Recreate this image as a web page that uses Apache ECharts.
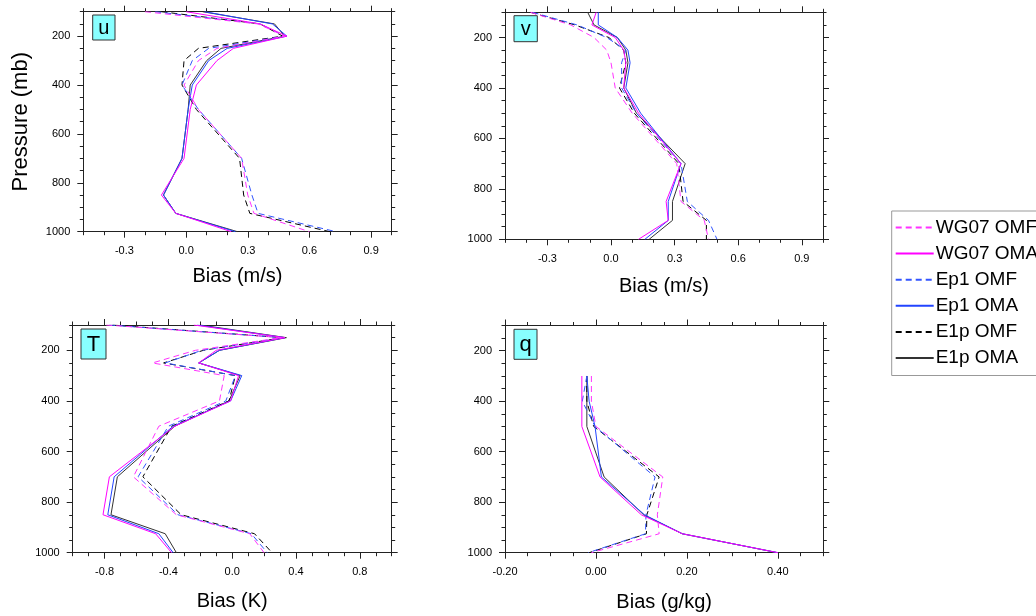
<!DOCTYPE html>
<html><head><meta charset="utf-8">
<script src="https://cdn.jsdelivr.net/npm/echarts@6/dist/echarts.min.js"></script>
<style>html,body{margin:0;padding:0;background:#fff}#c{width:1036px;height:616px}</style>
</head><body><div id="c"></div>
<script>
// ---------------- data ----------------
const seriesNames = ['WG07 OMF', 'WG07 OMA', 'Ep1 OMF', 'Ep1 OMA', 'E1p OMF', 'E1p OMA'];
const levels  = [100, 150, 200, 250, 300, 400, 500, 700, 850, 925, 1000];
const qLevels = [300, 400, 500, 700, 850, 925, 1000];

const u_WG07_OMF = [-0.20, 0.35, 0.48, 0.15, 0.06, -0.01, 0.06, 0.27, 0.30, 0.33, 0.60];
const u_WG07_OMA = [ 0.00, 0.36, 0.49, 0.23, 0.15,  0.05, 0.02, -0.01, -0.12, -0.05, 0.22];
const u_Ep1_OMF  = [-0.15, 0.36, 0.48, 0.11, 0.03, -0.02, 0.06, 0.27, 0.32, 0.35, 0.73];
const u_Ep1_OMA  = [ 0.09, 0.42, 0.49, 0.20, 0.11,  0.03, 0.01, -0.02, -0.11, -0.05, 0.24];
const u_E1p_OMF  = [-0.12, 0.36, 0.47, 0.06, -0.01, -0.02, 0.05, 0.26, 0.28, 0.31, 0.70];
const u_E1p_OMA  = [ 0.08, 0.43, 0.48, 0.17, 0.10,  0.02, 0.01, -0.02, -0.11, -0.05, 0.25];

const v_WG07_OMF = [-0.38, -0.19, -0.08, -0.02, 0.00, 0.02, 0.10, 0.31, 0.33, 0.44, 0.46];
const v_WG07_OMA = [-0.07, -0.09,  0.02,  0.06, 0.07, 0.06, 0.13, 0.33, 0.26, 0.27, 0.13];
const v_Ep1_OMF  = [-0.37, -0.16, -0.02,  0.07, 0.05, 0.05, 0.12, 0.33, 0.36, 0.46, 0.50];
const v_Ep1_OMA  = [-0.06, -0.06,  0.03,  0.08, 0.09, 0.07, 0.14, 0.33, 0.27, 0.27, 0.16];
const v_E1p_OMF  = [-0.38, -0.17, -0.01,  0.06, 0.07, 0.04, 0.11, 0.32, 0.34, 0.45, 0.45];
const v_E1p_OMA  = [-0.11, -0.08,  0.03,  0.07, 0.08, 0.06, 0.12, 0.35, 0.29, 0.29, 0.18];

const T_WG07_OMF = [-0.79, 0.31, -0.23, -0.50, -0.05, -0.08, -0.46, -0.62, -0.35, 0.11, 0.20];
const T_WG07_OMA = [-0.24, 0.33, -0.10, -0.21,  0.04, -0.01, -0.36, -0.77, -0.81, -0.48, -0.38];
const T_Ep1_OMF  = [-0.77, 0.32, -0.19, -0.42,  0.02, -0.04, -0.40, -0.59, -0.34, 0.12, 0.22];
const T_Ep1_OMA  = [-0.22, 0.33, -0.08, -0.21,  0.06, -0.01, -0.37, -0.74, -0.78, -0.46, -0.37];
const T_E1p_OMF  = [-0.75, 0.32, -0.18, -0.43,  0.02, -0.02, -0.38, -0.56, -0.32, 0.14, 0.25];
const T_E1p_OMA  = [-0.20, 0.34, -0.08, -0.21,  0.05, -0.02, -0.36, -0.72, -0.76, -0.42, -0.35];

const q_WG07_OMF = [-0.010, -0.010,  0.000, 0.147, 0.135, 0.139, -0.010];
const q_WG07_OMA = [-0.031, -0.031, -0.031, 0.009, 0.100, 0.190,  0.400];
const q_Ep1_OMF  = [-0.020, -0.030, -0.002, 0.130, 0.110, 0.109, -0.017];
const q_Ep1_OMA  = [-0.020, -0.015, -0.002, 0.012, 0.107, 0.190,  0.400];
const q_E1p_OMF  = [-0.020, -0.020, -0.005, 0.139, 0.112, 0.111, -0.015];
const q_E1p_OMA  = [-0.020, -0.020, -0.020, 0.018, 0.105, 0.190,  0.400];

const yTickLabels = [200, 400, 600, 800, 1000];
const uvTickLabels = [-0.3, 0.0, 0.3, 0.6, 0.9];
const TTickLabels = [-0.8, -0.4, 0.0, 0.4, 0.8];
const qTickLabels = [-0.20, 0.00, 0.20, 0.40];

// ---------------- layout / style ----------------
const FONT = '"Liberation Sans", Arial, Helvetica, sans-serif';
const colors = ['#ff33ff', '#ff00ff', '#3355ff', '#2244ff', '#000000', '#333333'];
const dashed = [true, false, true, false, true, false];

const panels = [
  { label: 'u', title: 'Bias (m/s)', levels: levels, data: [u_WG07_OMF, u_WG07_OMA, u_Ep1_OMF, u_Ep1_OMA, u_E1p_OMF, u_E1p_OMA],
    min: -0.5, max: 1.0, minor: 0.1, ticks: uvTickLabels, dec: 1,
    grid: { left: 83.3, top: 11.7, width: 308.4, height: 220 }, nameGap: 35, yName: 'Pressure (mb)',
    box: { x: 92.7, y: 15, w: 22.3, h: 25, fs: 20 } },
  { label: 'v', title: 'Bias (m/s)', levels: levels, data: [v_WG07_OMF, v_WG07_OMA, v_Ep1_OMF, v_Ep1_OMA, v_E1p_OMF, v_E1p_OMA],
    min: -0.5, max: 1.0, minor: 0.1, ticks: uvTickLabels, dec: 1,
    grid: { left: 505, top: 12.3, width: 318, height: 227 }, nameGap: 37,
    box: { x: 514, y: 15.7, w: 23.3, h: 26, fs: 20 } },
  { label: 'T', title: 'Bias (K)', levels: levels, data: [T_WG07_OMF, T_WG07_OMA, T_Ep1_OMF, T_Ep1_OMA, T_E1p_OMF, T_E1p_OMA],
    min: -1.0, max: 1.0, minor: 0.1, ticks: TTickLabels, dec: 1,
    grid: { left: 72.7, top: 325, width: 319, height: 227.7 }, nameGap: 39,
    box: { x: 81, y: 329, w: 25, h: 30, fs: 22 } },
  { label: 'q', title: 'Bias (g/kg)', levels: qLevels, data: [q_WG07_OMF, q_WG07_OMA, q_Ep1_OMF, q_Ep1_OMA, q_E1p_OMF, q_E1p_OMA],
    min: -0.2, max: 0.5, minor: 0.05, ticks: qTickLabels, dec: 2,
    grid: { left: 505, top: 325.5, width: 318.3, height: 227.2 }, nameGap: 40,
    box: { x: 514, y: 329.3, w: 23, h: 30, fs: 22 } }
];

const AX = '#222';
const grids = [], xAxes = [], yAxes = [], series = [], graphics = [];

panels.forEach((p, g) => {
  grids.push(Object.assign({ containLabel: false }, p.grid));
  const baseX = { type: 'value', gridIndex: g, min: p.min, max: p.max, splitLine: { show: false } };
  const baseY = { type: 'value', gridIndex: g, min: 100, max: 1000, inverse: true, splitLine: { show: false } };
  const fmtX = v => Number(v).toFixed(p.dec);
  const fmtY = v => String(Math.round(v));
  xAxes.push(Object.assign({}, baseX, { position: 'bottom', interval: p.minor,
    axisLine: { show: true, onZero: false, lineStyle: { color: AX, width: 1 } },
    axisTick: { show: true, inside: false, length: 3.5, lineStyle: { color: AX } },
    axisLabel: { show: false } }));
  xAxes.push(Object.assign({}, baseX, { position: 'bottom',
    axisLine: { show: false, onZero: false },
    axisTick: { show: true, length: 6, customValues: p.ticks, lineStyle: { color: AX } },
    axisLabel: { show: true, customValues: p.ticks, formatter: fmtX, margin: 14, fontSize: 11, color: '#000', fontFamily: FONT },
    name: p.title, nameLocation: 'middle', nameGap: p.nameGap,
    nameTextStyle: { fontSize: 20, color: '#000', fontFamily: FONT } }));
  xAxes.push(Object.assign({}, baseX, { position: 'top', interval: p.minor,
    axisLine: { show: true, onZero: false, lineStyle: { color: AX, width: 1 } },
    axisTick: { show: true, length: 3.5, lineStyle: { color: AX } },
    axisLabel: { show: false } }));
  xAxes.push(Object.assign({}, baseX, { position: 'top',
    axisLine: { show: false, onZero: false },
    axisTick: { show: true, length: 6, customValues: p.ticks, lineStyle: { color: AX } },
    axisLabel: { show: false } }));

  yAxes.push(Object.assign({}, baseY, { position: 'left', interval: 50,
    axisLine: { show: true, onZero: false, lineStyle: { color: AX, width: 1 } },
    axisTick: { show: true, length: 3.5, lineStyle: { color: AX } },
    axisLabel: { show: false } }));
  const leftMajor = Object.assign({}, baseY, { position: 'left',
    axisLine: { show: false, onZero: false },
    axisTick: { show: true, length: 6, customValues: yTickLabels, lineStyle: { color: AX } },
    axisLabel: { show: true, customValues: yTickLabels, formatter: fmtY, margin: 13, fontSize: 11, color: '#000', fontFamily: FONT } });
  if (p.yName) {
    Object.assign(leftMajor, { name: p.yName, nameLocation: 'middle', nameGap: 51,
      nameTextStyle: { fontSize: 22, color: '#000', fontFamily: FONT } });
  }
  yAxes.push(leftMajor);
  yAxes.push(Object.assign({}, baseY, { position: 'right', interval: 50,
    axisLine: { show: true, onZero: false, lineStyle: { color: AX, width: 1 } },
    axisTick: { show: true, length: 3.5, lineStyle: { color: AX } },
    axisLabel: { show: false } }));
  yAxes.push(Object.assign({}, baseY, { position: 'right',
    axisLine: { show: false, onZero: false },
    axisTick: { show: true, length: 6, customValues: yTickLabels, lineStyle: { color: AX } },
    axisLabel: { show: false } }));

  p.data.forEach((arr, k) => {
    series.push({
      name: seriesNames[k], type: 'line', xAxisIndex: 4 * g, yAxisIndex: 4 * g,
      data: arr.map((x, i) => [x, p.levels[i]]),
      symbol: 'none', showSymbol: false, silent: true, animation: false,
      color: colors[k],
      lineStyle: { color: colors[k], width: 1, type: dashed[k] ? [6, 4] : 'solid' },
      z: 10 - k
    });
  });

  const b = p.box;
  graphics.push({ type: 'rect', shape: { x: b.x, y: b.y, width: b.w, height: b.h },
    style: { fill: '#88ffff', stroke: '#333', lineWidth: 1 }, z: 100 });
  graphics.push({ type: 'text', x: b.x + b.w / 2, y: b.y + b.h / 2 + 1,
    style: { text: p.label, fill: '#000', font: b.fs + 'px ' + FONT, align: 'center', verticalAlign: 'middle' }, z: 101 });
});

const chart = echarts.init(document.getElementById('c'));
chart.setOption({
  animation: false,
  backgroundColor: '#fff',
  grid: grids,
  xAxes: undefined,
  xAxis: xAxes,
  yAxis: yAxes,
  series: series,
  graphic: graphics,
  legend: {
    data: seriesNames, orient: 'vertical', left: 891.7, top: 211,
    padding: [7, 3, 8, 3], itemWidth: 38, itemHeight: 14, itemGap: 7.1,
    borderColor: '#999', borderWidth: 1, backgroundColor: '#fff',
    selectedMode: false,
    itemStyle: { opacity: 0, borderWidth: 0 },
    textStyle: { fontSize: 19, color: '#000', fontFamily: FONT, padding: [0, 0, 0, -3] }
  }
});
</script>
</body></html>
